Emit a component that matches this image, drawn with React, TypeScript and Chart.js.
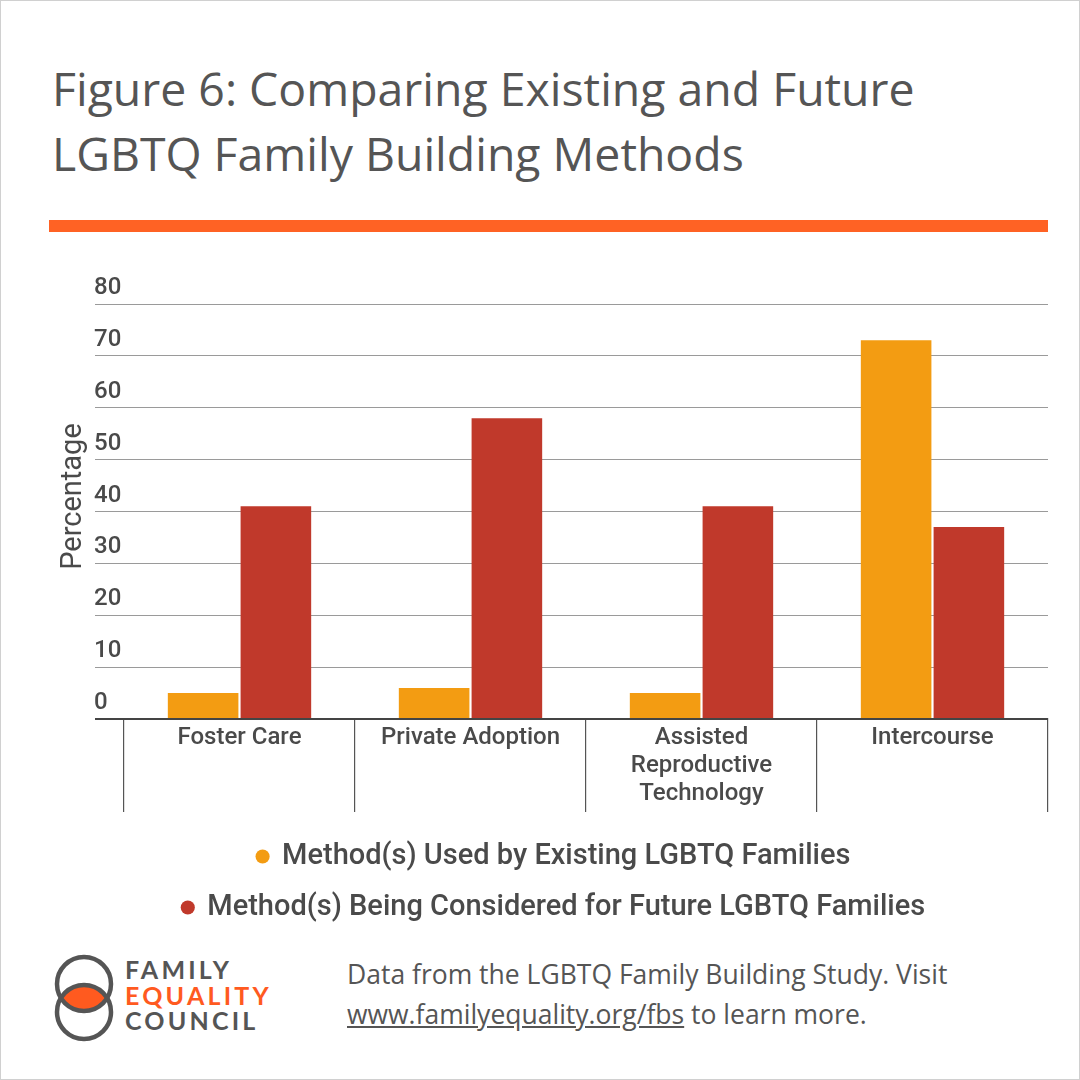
import React, { useEffect, useRef } from "react";
import { Chart, registerables } from "chart.js";

Chart.register(...registerables);

const categories: (string | string[])[] = [
  "Foster Care",
  "Private Adoption",
  ["Assisted", "Reproductive", "Technology"],
  "Intercourse",
];
const existingValues = [5, 6, 5, 73];
const futureValues = [41, 58, 41, 37];
const seriesLabels = [
  "Method(s) Used by Existing LGBTQ Families",
  "Method(s) Being Considered for Future LGBTQ Families",
];
const seriesColors = ["#F39C12", "#C0392B"];
const yMin = 0;
const yMax = 80;
const yStep = 10;
const yTitle = "Percentage";

const TEXT = "#4a4a4a";

const yTitlePlugin = {
  id: "yTitleDraw",
  afterDraw(chart: any) {
    const { ctx, chartArea } = chart;
    ctx.save();
    ctx.font = "400 29px Roboto";
    ctx.fillStyle = TEXT;
    ctx.textAlign = "center";
    ctx.textBaseline = "middle";
    ctx.translate(73, (chartArea.top + chartArea.bottom) / 2 - 15);
    ctx.rotate(-Math.PI / 2);
    ctx.fillText(yTitle, 0, 0);
    ctx.restore();
  },
};

function ChartBox() {
  const ref = useRef<HTMLCanvasElement | null>(null);
  useEffect(() => {
    if (!ref.current) return;
    const chart = new Chart(ref.current, {
      type: "bar",
      data: {
        labels: categories,
        datasets: [
          {
            label: seriesLabels[0],
            data: existingValues,
            backgroundColor: seriesColors[0],
            borderWidth: 0,
            barPercentage: 0.97,
            categoryPercentage: 0.63,
          },
          {
            label: seriesLabels[1],
            data: futureValues,
            backgroundColor: seriesColors[1],
            borderWidth: 0,
            barPercentage: 0.97,
            categoryPercentage: 0.63,
          },
        ],
      },
      plugins: [yTitlePlugin],
      options: {
        animation: false,
        responsive: true,
        maintainAspectRatio: false,
        layout: { padding: { top: 63, left: 59, right: 33, bottom: 9 } },
        plugins: {
          tooltip: { enabled: false },
          legend: {
            position: "bottom",
            labels: {
              usePointStyle: true,
              pointStyle: "circle",
              boxWidth: 10,
              boxHeight: 10,
              padding: 22,
              color: TEXT,
              font: { family: "Roboto", size: 29, weight: "500" },
            },
          },
        },
        scales: {
          x: {
            grid: {
              display: true,
              drawOnChartArea: false,
              drawTicks: true,
              tickLength: 93,
              color: "#555",
              lineWidth: 1.2,
              offset: true,
            },
            border: { display: true, color: "#444", width: 2 },
            ticks: {
              color: TEXT,
              font: { family: "Roboto", size: 24, weight: "500", lineHeight: 1.167 },
              padding: -88,
              maxRotation: 0,
              autoSkip: false,
            },
            afterFit: (scale: any) => {
              scale.height = 101;
            },
          },
          y: {
            min: yMin,
            max: yMax,
            border: { display: false },
            grid: {
              color: (c: any) => (c.tick && c.tick.value === 0 ? "#444" : "#9a9a9a"),
              lineWidth: (c: any) => (c.tick && c.tick.value === 0 ? 2 : 1),
              drawTicks: true,
              tickLength: 29,
              tickColor: (c: any) => (c.tick && c.tick.value === 0 ? "#444" : "#9a9a9a"),
            },
            ticks: {
              stepSize: yStep,
              mirror: true,
              padding: -30,
              labelOffset: -16,
              color: TEXT,
              font: { family: "Roboto", size: 24, weight: "500" },
            },
            title: { display: false },
            afterFit: (scale: any) => {
              scale.width = 64;
            },
          },
        },
      },
    });
    return () => chart.destroy();
  }, []);
  return <canvas ref={ref} />;
}

export default function App() {
  return (
    <div
      style={{
        position: "absolute",
        left: 0,
        top: 0,
        width: 1080,
        height: 1080,
        background: "#fff",
        border: "1px solid #d0d0d0",
        boxSizing: "border-box",
        overflow: "hidden",
      }}
    >
      <div
        style={{
          position: "absolute",
          left: 51,
          top: 55,
          fontFamily: "'Open Sans'",
          fontWeight: 400,
          fontSize: 46.4,
          lineHeight: "65px",
          color: "#555",
          whiteSpace: "nowrap",
        }}
      >
        Figure 6: Comparing Existing and Future
        <br />
        LGBTQ Family Building Methods
      </div>
      <div
        style={{
          position: "absolute",
          left: 48,
          top: 219,
          width: 999,
          height: 12,
          background: "#FF6224",
        }}
      />
      <div style={{ position: "absolute", left: 0, top: 240, width: 1080, height: 700 }}>
        <ChartBox />
      </div>
      <svg
        style={{ position: "absolute", left: 50, top: 950 }}
        width={70}
        height={95}
        viewBox="0 0 70 95"
      >
        <defs>
          <clipPath id="topc">
            <circle cx={33} cy={33} r={27} />
          </clipPath>
        </defs>
        <circle cx={33} cy={61} r={27} fill="#FF5A1F" clipPath="url(#topc)" />
        <circle cx={33} cy={33} r={27} fill="none" stroke="#555" strokeWidth={4.5} />
        <circle cx={33} cy={61} r={27} fill="none" stroke="#555" strokeWidth={4.5} />
      </svg>
      <div
        style={{
          position: "absolute",
          left: 124,
          top: 956,
          fontFamily: "Lato",
          fontWeight: 700,
          fontSize: 25,
          lineHeight: "25.5px",
          letterSpacing: 3.2,
          color: "#555",
        }}
      >
        <div>FAMILY</div>
        <div style={{ color: "#FF5A1F" }}>EQUALITY</div>
        <div>COUNCIL</div>
      </div>
      <div
        style={{
          position: "absolute",
          left: 346,
          top: 953,
          fontFamily: "'Open Sans'",
          fontSize: 26.5,
          lineHeight: "40px",
          color: "#555",
          whiteSpace: "nowrap",
        }}
      >
        Data from the LGBTQ Family Building Study. Visit
        <br />
        <span style={{ textDecoration: "underline" }}>www.familyequality.org/fbs</span> to learn more.
      </div>
    </div>
  );
}
